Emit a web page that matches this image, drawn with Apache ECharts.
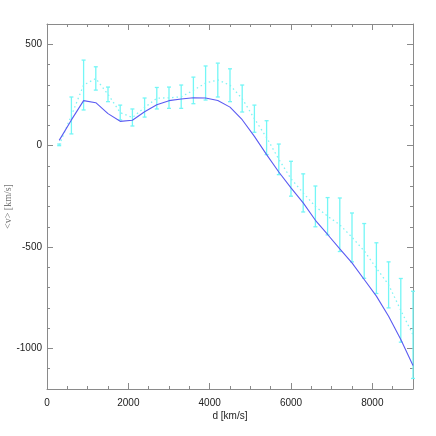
<!DOCTYPE html>
<html>
<head>
<meta charset="utf-8">
<script src="https://cdn.jsdelivr.net/npm/echarts@6/dist/echarts.min.js"></script>
<style>
  html, body { margin: 0; padding: 0; background: #fff; }
  #chart { width: 436px; height: 436px; }
</style>
</head>
<body>
<div id="chart"></div>
<script>
// distances (km/s)
var dist = [300, 600, 900, 1200, 1500, 1800, 2100, 2400, 2700, 3000,
    3300, 3600, 3900, 4200, 4500, 4800, 5100, 5400, 5700, 6000,
    6300, 6600, 6900, 7200, 7500, 7800, 8100, 8400, 8700, 9000];
// model curve
var model = [26, 127, 222, 212, 158, 120, 125, 167, 202, 222,
    230, 236, 235, 223, 190, 128, 46, -44, -130, -208,
    -282, -368, -438, -509, -578, -660, -742, -841, -956, -1084];
// measured mean and error range
var meanV = [3, 149, 299, 331, 253, 163, 139, 188, 234, 236,
    241, 273, 309, 324, 298, 232, 133, 40, -67, -163,
    -233, -300, -348, -390, -452, -519, -604, -686, -812, -933];
var lowV = [0, 58, 176, 274, 217, 127, 97, 141, 181, 184,
    184, 207, 225, 240, 217, 166, 66, -44, -143, -249,
    -327, -400, -440, -522, -573, -654, -729, -800, -969, -1148];
var highV = [8, 240, 422, 389, 289, 200, 181, 235, 287, 289,
    299, 338, 393, 407, 379, 299, 200, 123, 8, -77,
    -139, -199, -256, -258, -332, -384, -479, -573, -655, -718];

var xMajor = [0, 2000, 4000, 6000, 8000];
var xMinor = [500, 1000, 1500, 2500, 3000, 3500, 4500, 5000, 5500, 6500, 7000, 7500, 8500];
var yMajor = [-1000, -500, 0, 500];
var yMinor = [-1100, -900, -800, -700, -600, -400, -300, -200, -100, 100, 200, 300, 400];

var frame = '#8a8a8a';
var box = { left: 47, right: 23, top: 24, bottom: 47, outerBoundsMode: 'none', containLabel: false };

function plain(v) { return String(v); }

function majorX(pos, labels) {
    return {
        type: 'value', gridIndex: 0, position: pos, min: 0, max: 9000,
        axisLine: { show: true, onZero: false, lineStyle: { color: frame, width: 1 } },
        axisTick: { show: true, inside: true, length: 6, customValues: xMajor, lineStyle: { color: frame } },
        axisLabel: { show: labels, customValues: xMajor, formatter: plain, margin: 9, color: '#222', fontSize: 10, fontFamily: 'Liberation Sans' },
        splitLine: { show: false },
        name: labels ? 'd [km/s]' : '', nameLocation: 'middle', nameGap: 22, nameMoveOverlap: false,
        nameTextStyle: { color: '#222', fontSize: 10, fontFamily: 'Liberation Sans' }
    };
}
function minorX(pos) {
    return {
        type: 'value', gridIndex: 1, position: pos, min: 0, max: 9000,
        axisLine: { show: false, onZero: false },
        axisTick: { show: true, inside: true, length: 3, customValues: xMinor, lineStyle: { color: frame } },
        axisLabel: { show: false }, splitLine: { show: false }
    };
}
function majorY(pos, labels) {
    return {
        type: 'value', gridIndex: 0, position: pos, min: -1200, max: 600,
        axisLine: { show: true, onZero: false, lineStyle: { color: frame, width: 1 } },
        axisTick: { show: true, inside: true, length: 6, customValues: yMajor, lineStyle: { color: frame } },
        axisLabel: { show: labels, customValues: yMajor, formatter: plain, margin: 5, color: '#222', fontSize: 10, fontFamily: 'Liberation Sans' },
        splitLine: { show: false },
        name: labels ? '<v> [km/s]' : '', nameLocation: 'middle', nameGap: 34, nameMoveOverlap: false,
        nameTextStyle: { color: '#777', fontSize: 10, fontFamily: 'Liberation Serif' }
    };
}
function minorY(pos) {
    return {
        type: 'value', gridIndex: 1, position: pos, min: -1200, max: 600,
        axisLine: { show: false, onZero: false },
        axisTick: { show: true, inside: true, length: 3, customValues: yMinor, lineStyle: { color: frame } },
        axisLabel: { show: false }, splitLine: { show: false }
    };
}

var pts = dist.map(function (d, i) { return [d, model[i]]; });
var obs = dist.map(function (d, i) { return [d, meanV[i]]; });
var bars = dist.map(function (d, i) { return [d, lowV[i], highV[i]]; });

var chart = echarts.init(document.getElementById('chart'));
chart.setOption({
    animation: false,
    grid: [
        Object.assign({}, box),
        Object.assign({}, box)
    ],
    xAxis: [majorX('bottom', true), majorX('top', false), minorX('bottom'), minorX('top')],
    yAxis: [majorY('left', true), majorY('right', false), minorY('left'), minorY('right')],
    series: [
        {
            type: 'custom', xAxisIndex: 0, yAxisIndex: 0,
            data: bars,
            renderItem: function (params, api) {
                var x = api.coord([api.value(0), api.value(1)])[0];
                var yl = api.coord([api.value(0), api.value(1)])[1];
                var yh = api.coord([api.value(0), api.value(2)])[1];
                var st = { stroke: '#74f6f6', lineWidth: 1.3 };
                return {
                    type: 'group',
                    children: [
                        { type: 'line', shape: { x1: x, y1: yl, x2: x, y2: yh }, style: st },
                        { type: 'line', shape: { x1: x - 2, y1: yl, x2: x + 2, y2: yl }, style: st },
                        { type: 'line', shape: { x1: x - 2, y1: yh, x2: x + 2, y2: yh }, style: st }
                    ]
                };
            },
            z: 2
        },
        {
            type: 'line', xAxisIndex: 0, yAxisIndex: 0,
            data: obs, showSymbol: false,
            lineStyle: { color: '#80f4f4', width: 1.3, type: [1.5, 3] },
            z: 3
        },
        {
            type: 'line', xAxisIndex: 0, yAxisIndex: 0,
            data: pts, showSymbol: false,
            lineStyle: { color: '#5b5bf2', width: 1.1 },
            z: 4
        }
    ]
});
</script>
</body>
</html>
